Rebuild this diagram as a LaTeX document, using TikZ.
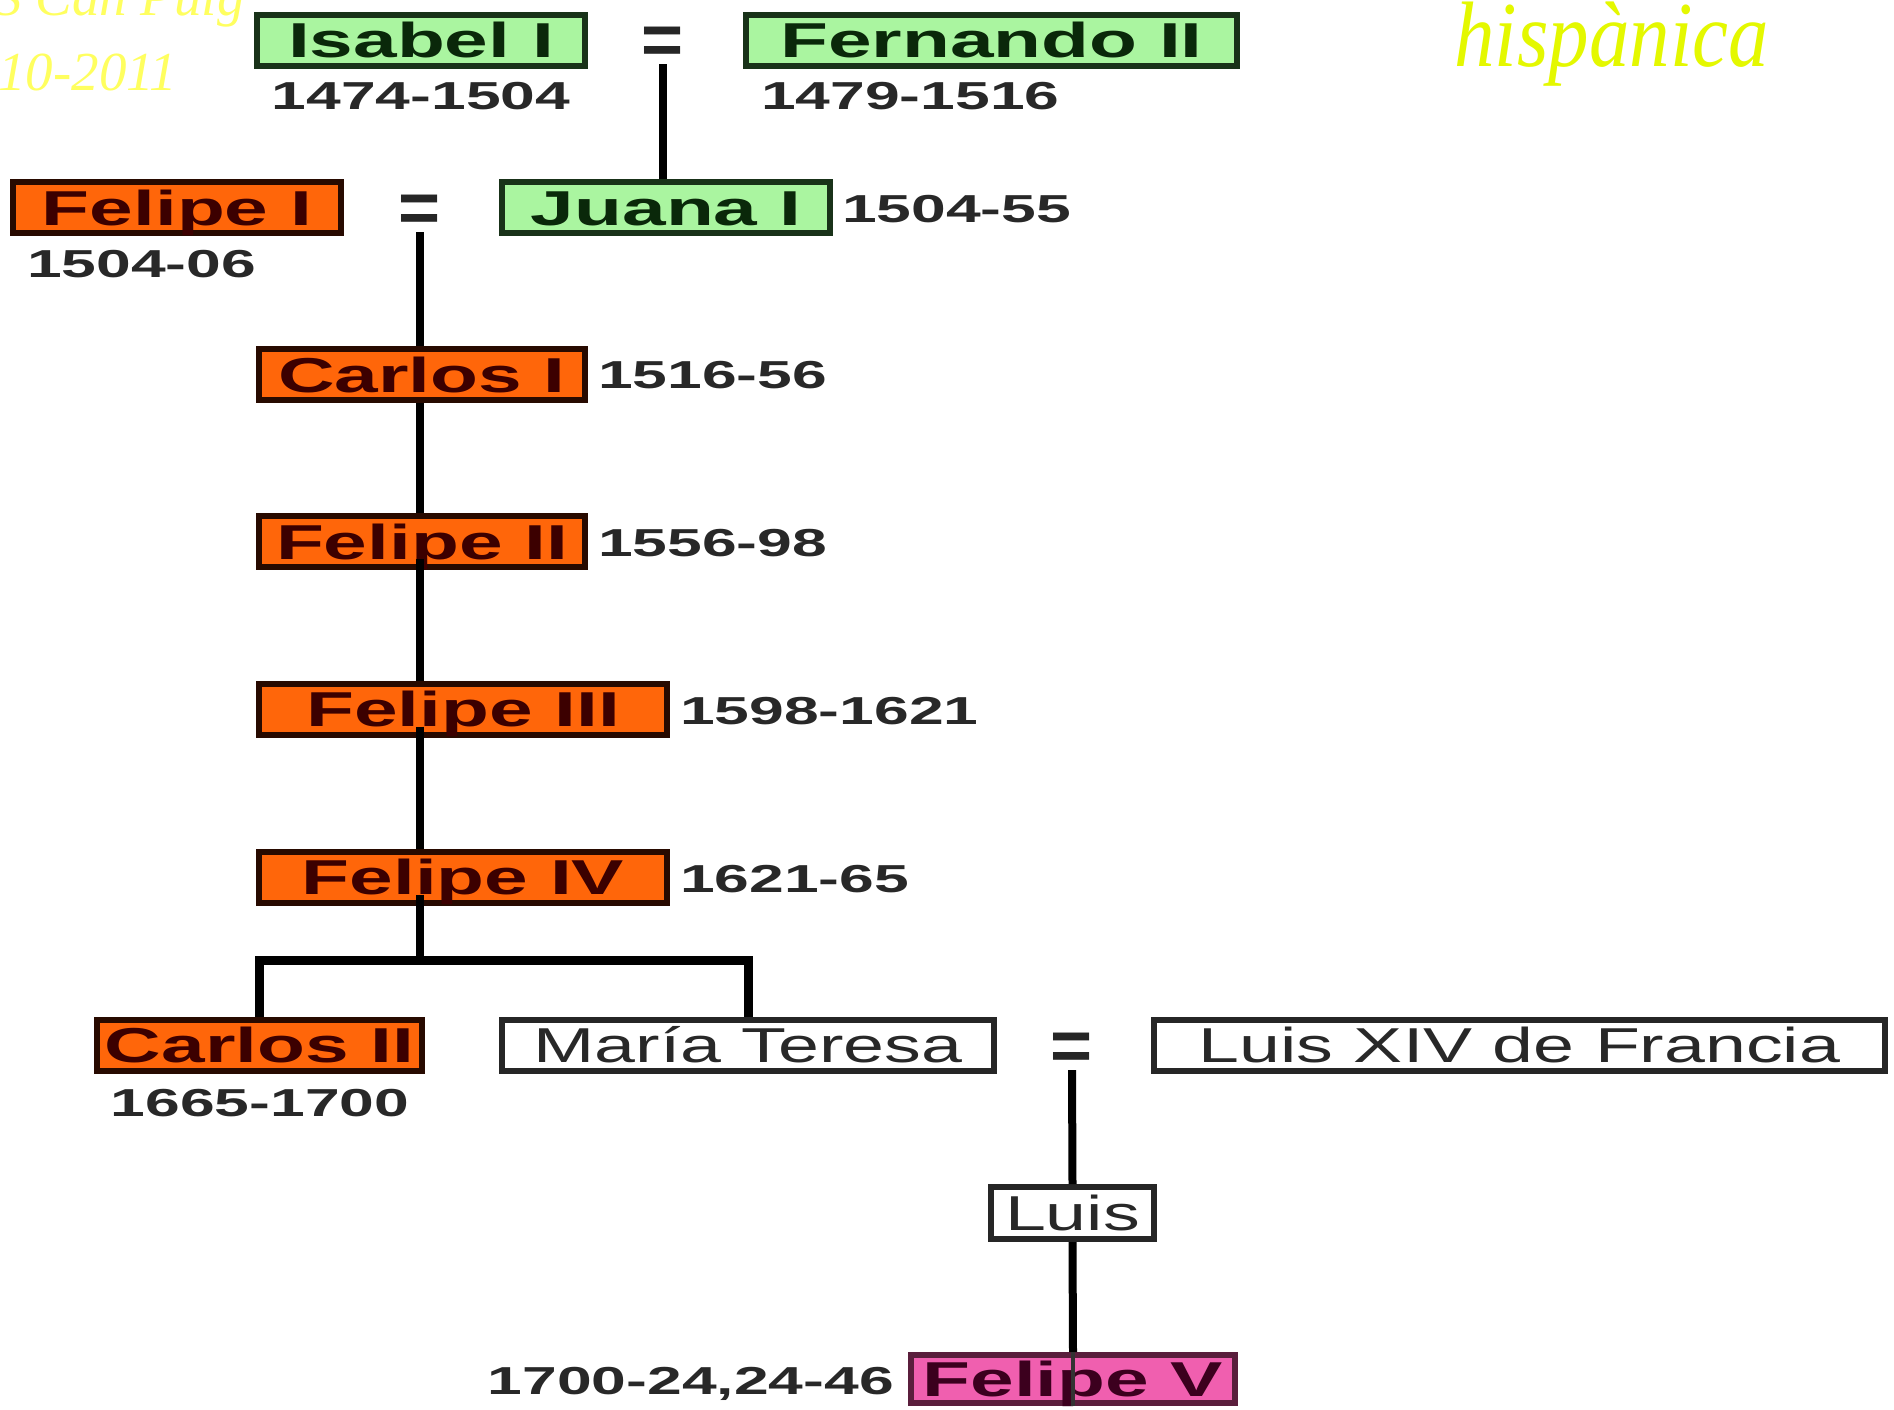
\documentclass[tikz,border=0pt]{standalone}
\usepackage{fontspec}
\setmainfont{Liberation Sans}
\newfontfamily\yser{Liberation Serif}
\definecolor{gfill}{RGB}{170,245,160}
\definecolor{gline}{RGB}{25,50,25}
\definecolor{gtext}{RGB}{10,40,10}
\definecolor{ofill}{RGB}{255,102,10}
\definecolor{oline}{RGB}{40,10,0}
\definecolor{otext}{RGB}{60,0,0}
\definecolor{pfill}{RGB}{240,95,175}
\definecolor{pline}{RGB}{90,30,60}
\definecolor{ptext}{RGB}{60,0,30}
\definecolor{dtext}{RGB}{40,40,40}
\definecolor{wtext}{RGB}{40,40,40}
\definecolor{paleyel}{RGB}{255,255,95}
\definecolor{yelgreen}{RGB}{228,248,0}
\newcommand\sx[1]{\scalebox{1.6}[1]{#1}}
\newcommand\sxr[1]{\scalebox{1.5}[1]{#1}}
\begin{document}
\begin{tikzpicture}[x=1pt,y=-1pt,
  box/.style={draw, line width=6pt, inner sep=0pt, text height=35pt, text depth=0pt,
    minimum height=51pt, font=\fontsize{49}{49}\selectfont\bfseries},
  gbox/.style={box, fill=gfill, draw=gline, text=gtext},
  obox/.style={box, fill=ofill, draw=oline, text=otext},
  pbox/.style={box, fill=pfill, draw=pline, text=ptext},
  wbox/.style={box, fill=white, draw=black!85, text=wtext, font=\fontsize{49}{49}\selectfont},
  datelbl/.style={inner sep=0pt, text height=28pt, text depth=0pt, text=dtext,
    font=\fontsize{39}{39}\selectfont\bfseries},
  eqs/.style={inner sep=0pt, text height=48pt, text depth=0pt, minimum height=48pt,
    text=black!85, font=\fontsize{80}{80}\selectfont\bfseries},
  link/.style={line width=8pt, draw=black},
  bar/.style={line width=9pt, draw=black}
]
\fill[white] (0,0) rectangle (1894,1409);
\useasboundingbox (0,0) rectangle (1894,1409);

% overlay texts
\node[anchor=base west, inner sep=0pt, text=paleyel, font=\yser\itshape\fontsize{55}{55}\selectfont] (tl1) at (-6,15) {S Can Puig};
\node[anchor=base west, inner sep=0pt, text=paleyel, font=\yser\itshape\fontsize{55}{55}\selectfont] (tl2) at (-2,90) {10-2011};
\node[anchor=base west, inner sep=0pt, text=yelgreen, font=\yser\itshape\fontsize{93}{93}\selectfont] (hisp) at (1454,66) {\scalebox{0.87}[1]{hispànica}};

% people
\node[gbox, minimum width=328pt] (isabel) at (421,40) {\sx{Isabel I}};
\node[eqs] (eq1) at (663,40) {\scalebox{0.9}[0.9]{=}};
\node[gbox, minimum width=491pt] (fernando) at (991.5,40) {\sx{Fernando II}};
\node[datelbl] (disabel) at (421,95) {\sx{1474-1504}};
\node[datelbl, anchor=west] (dfernando) at (761,95) {\sx{1479-1516}};

\node[obox, minimum width=328pt] (felipe1) at (177,207.5) {\sx{Felipe I}};
\node[eqs] (eq2) at (420,208) {\scalebox{0.9}[0.9]{=}};
\node[gbox, minimum width=328pt] (juana) at (666,207.5) {\sx{Juana I}};
\node[datelbl, anchor=west] (dfelipe1) at (27,263) {\sx{1504-06}};
\node[datelbl, anchor=west] (djuana) at (842,208) {\sx{1504-55}};

\node[obox, minimum width=326pt] (carlos1) at (422,374.5) {\sx{Carlos I}};
\node[datelbl, anchor=west] (dcarlos1) at (598,374) {\sx{1516-56}};
\node[obox, minimum width=326pt] (felipe2) at (422,541.5) {\sx{Felipe II}};
\node[datelbl, anchor=west] (dfelipe2) at (598,542) {\sx{1556-98}};
\node[obox, minimum width=408pt] (felipe3) at (463,709) {\sx{Felipe III}};
\node[datelbl, anchor=west] (dfelipe3) at (680,710) {\sx{1598-1621}};
\node[obox, minimum width=408pt] (felipe4) at (463,877) {\sx{Felipe IV}};
\node[datelbl, anchor=west] (dfelipe4) at (680,878) {\sx{1621-65}};

\node[obox, minimum width=325pt] (carlos2) at (259.5,1045) {\sx{Carlos II}};
\node[datelbl] (dcarlos2) at (260,1102) {\sx{1665-1700}};
\node[wbox, minimum width=492pt] (maria) at (748,1045) {\sxr{María Teresa}};
\node[eqs] (eq3) at (1072,1046) {\scalebox{0.9}[0.9]{=}};
\node[wbox, minimum width=731pt] (luisxiv) at (1519.5,1045) {\sxr{Luis XIV de Francia}};

\node[wbox, minimum width=163pt, minimum height=52pt] (luis) at (1072.5,1213) {\sxr{Luis}};
\node[pbox, minimum width=324pt, minimum height=48pt] (felipe5) at (1073,1379) {\sx{Felipe V}};
\node[datelbl, anchor=east] (dfelipe5) at (894,1380) {\sx{1700-24,24-46}};

% connectors
\coordinate (jn) at (420,960);
\draw[link] (eq1.south) -- (eq1.south |- juana.north);
\draw[link] (eq2.south) -- (eq2.south |- carlos1.north);
\draw[link] (carlos1.south -| eq2) -- (felipe2.north -| eq2);
\draw[link] (felipe2.base -| eq2) -- (felipe3.north -| eq2);
\draw[link] (felipe3.base -| eq2) -- (felipe4.north -| eq2);
\draw[link] (felipe4.base -| eq2) -- (jn);
\draw[bar] (carlos2.north) |- (jn) -| (maria.north);
\draw[link] (eq3.south) -- (luis.north);
\draw[link] (luis.south) -- (felipe5.north);
\draw[line width=4pt, draw=black!80] (felipe5.north) -- (felipe5.south);
\end{tikzpicture}
\end{document}
